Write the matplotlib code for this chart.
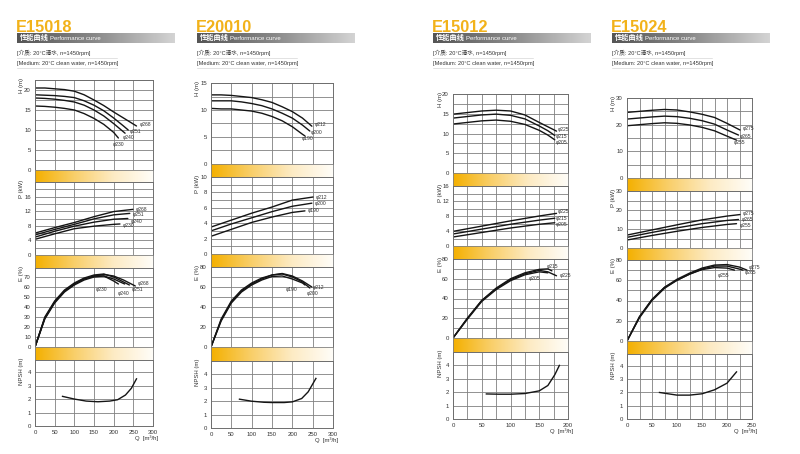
import numpy as np
import matplotlib
matplotlib.use("Agg")
import matplotlib.pyplot as plt
from matplotlib.colors import LinearSegmentedColormap

plt.rcParams["font.family"] = ["Liberation Sans", "Noto Sans CJK SC", "DejaVu Sans"]

# ---------------- values ----------------
# E15018
E15018_DIA = ["φ268", "φ251", "φ240", "φ230"]
E15018_H_Q = [[0, 25, 50, 75, 100, 125, 150, 175, 200, 225, 258],
              [0, 25, 50, 75, 100, 125, 150, 175, 200, 225, 237],
              [0, 25, 50, 75, 100, 125, 150, 175, 200, 229],
              [0, 25, 50, 75, 100, 125, 150, 175, 200, 212]]
E15018_H = [[20.5, 20.5, 20.3, 20.1, 19.7, 18.8, 17.5, 16.1, 14.5, 13.0, 11.0],
            [18.8, 18.7, 18.6, 18.4, 18.1, 17.3, 16.2, 14.8, 13.0, 11.0, 10.0],
            [18.0, 17.9, 17.7, 17.4, 17.0, 16.2, 15.0, 13.5, 11.6, 9.2],
            [16.0, 15.9, 15.7, 15.4, 15.0, 14.1, 12.9, 11.4, 9.4, 8.0]]
E15018_P_Q = [[0, 50, 100, 150, 200, 249], [0, 50, 100, 150, 200, 241],
              [0, 50, 100, 150, 200, 236], [0, 50, 100, 150, 200, 216]]
E15018_P = [[6.0, 7.5, 8.9, 10.5, 11.9, 12.5], [5.5, 7.0, 8.4, 9.9, 11.0, 11.4],
            [4.9, 6.5, 7.9, 9.0, 9.8, 10.0], [4.3, 5.8, 7.2, 7.9, 8.4, 8.5]]
E15018_E_Q = [[0, 25, 50, 75, 100, 125, 150, 175, 200, 225, 255],
              [0, 25, 50, 75, 100, 125, 150, 175, 200, 225, 240],
              [0, 25, 50, 75, 100, 125, 150, 175, 200, 228],
              [0, 25, 50, 75, 100, 125, 150, 175, 200, 212]]
E15018_E = [[0, 29, 45, 56, 63, 68, 71, 72.5, 71, 67, 61],
            [0, 30, 46, 57, 64, 69, 72, 73, 70, 65, 62],
            [0, 28, 44, 55, 62, 67, 70, 71, 68, 63],
            [0, 29, 45, 56, 63, 68, 71, 71, 66, 63]]
E15018_N_Q = [70, 100, 130, 160, 190, 210, 230, 245, 258]
E15018_N = [2.2, 2.0, 1.85, 1.8, 1.85, 1.95, 2.3, 2.8, 3.5]

# E20010
E20010_DIA = ["φ212", "φ200", "φ190"]
E20010_H_Q = [[0, 25, 50, 75, 100, 125, 150, 175, 200, 225, 248],
              [0, 25, 50, 75, 100, 125, 150, 175, 200, 225, 243],
              [0, 25, 50, 75, 100, 125, 150, 175, 200, 225, 231]]
E20010_H = [[12.8, 12.8, 12.7, 12.5, 12.3, 11.9, 11.4, 10.6, 9.7, 8.5, 7.0],
            [11.7, 11.7, 11.7, 11.5, 11.2, 10.8, 10.2, 9.4, 8.5, 7.2, 6.1],
            [10.3, 10.2, 10.2, 10.0, 9.8, 9.4, 8.8, 8.0, 6.9, 5.5, 5.2]]
E20010_P_Q = [[0, 50, 100, 150, 200, 251], [0, 50, 100, 150, 200, 248],
              [0, 50, 100, 150, 200, 231]]
E20010_P = [[3.5, 4.4, 5.3, 6.1, 7.0, 7.4], [3.0, 3.9, 4.7, 5.5, 6.2, 6.6],
            [2.3, 3.2, 4.1, 4.8, 5.4, 5.6]]
E20010_E_Q = [[0, 25, 50, 75, 100, 125, 150, 175, 200, 225, 248],
              [0, 25, 50, 75, 100, 125, 150, 175, 200, 225, 243],
              [0, 25, 50, 75, 100, 125, 150, 175, 200, 225, 231]]
E20010_E = [[0, 27, 45, 56, 63, 68, 72, 73.5, 71, 66, 60],
            [0, 28, 46, 57, 64, 69, 72, 73, 70, 65, 59],
            [0, 26, 44, 55, 62, 67, 70.5, 71, 68, 64, 62]]
E20010_N_Q = [70, 100, 130, 150, 180, 200, 223, 239, 258]
E20010_N = [2.15, 2.0, 1.92, 1.9, 1.9, 1.95, 2.2, 2.7, 3.7]

# E15012
E15012_DIA = ["φ225", "φ215", "φ205"]
E15012_H_Q = [[0, 25, 50, 75, 100, 125, 150, 165, 180],
              [0, 25, 50, 75, 100, 125, 150, 165, 177],
              [0, 25, 50, 75, 100, 125, 150, 165, 177]]
E15012_H = [[14.9, 15.3, 15.7, 15.9, 15.7, 14.7, 12.8, 11.7, 10.6],
            [13.9, 14.3, 14.7, 14.9, 14.6, 13.7, 11.9, 10.7, 9.5],
            [12.4, 12.8, 13.2, 13.4, 13.1, 12.3, 10.8, 9.6, 8.4]]
E15012_P_Q = [[0, 50, 100, 150, 180], [0, 50, 100, 150, 177], [0, 50, 100, 150, 177]]
E15012_P = [[3.9, 5.3, 6.7, 8.0, 8.7], [3.2, 4.5, 5.8, 6.9, 7.4], [2.4, 3.6, 4.8, 5.8, 6.2]]
E15012_E_Q = [[0, 25, 50, 75, 100, 125, 150, 165, 180],
              [0, 25, 50, 75, 100, 125, 150, 165, 172],
              [0, 25, 50, 75, 100, 125, 150, 165]]
E15012_E = [[0, 20, 38, 50, 59, 65, 68.5, 67, 63],
            [0, 20, 38, 50.5, 60, 66, 69.5, 70, 68],
            [0, 19, 37, 49, 58, 64, 67, 66]]
E15012_N_Q = [58, 80, 100, 125, 150, 165, 177, 185]
E15012_N = [1.87, 1.85, 1.85, 1.9, 2.1, 2.5, 3.3, 4.0]

# E15024
E15024_DIA = ["φ275", "φ265", "φ255"]
E15024_H_Q = [[0, 25, 50, 75, 100, 125, 150, 175, 200, 226],
              [0, 25, 50, 75, 100, 125, 150, 175, 200, 223],
              [0, 25, 50, 75, 100, 125, 150, 175, 200, 219]]
E15024_H = [[24.6, 25.0, 25.4, 25.7, 25.5, 24.8, 23.9, 22.7, 20.5, 18.0],
            [22.1, 22.5, 22.9, 23.2, 23.0, 22.4, 21.5, 20.2, 18.0, 16.1],
            [19.6, 20.0, 20.4, 20.7, 20.5, 19.9, 19.0, 17.7, 15.7, 14.2]]
E15024_P_Q = [[0, 50, 100, 150, 200, 226], [0, 50, 100, 150, 200, 223],
              [0, 50, 100, 150, 200, 219]]
E15024_P = [[6.8, 9.5, 12.2, 14.8, 16.8, 17.6], [5.6, 8.2, 10.6, 12.8, 14.5, 15.0],
            [4.2, 6.6, 8.8, 10.8, 12.4, 12.8]]
E15024_E_Q = [[0, 25, 50, 75, 100, 125, 150, 175, 200, 225, 240],
              [0, 25, 50, 75, 100, 125, 150, 175, 200, 225, 232],
              [0, 25, 50, 75, 100, 125, 150, 175, 200, 215]]
E15024_E = [[0, 24, 41, 53, 61, 67, 72, 75, 75.5, 73, 70],
            [0, 24, 41, 53, 60, 66, 71, 74, 74, 71, 70],
            [0, 23, 40, 52, 60, 66, 70.5, 72.5, 72, 70]]
E15024_N_Q = [65, 100, 125, 150, 175, 200, 219]
E15024_N = [2.0, 1.8, 1.8, 1.9, 2.2, 2.7, 3.55]

MEDIUM_CN = "[介质: 20°C清水, n=1450rpm]"
MEDIUM_EN = "[Medium: 20°C clean water, n=1450rpm]"
YLABELS = ["H (m)", "P (kW)", "E (%)", "NPSH (m)"]

# ---------------- layout (pixels of the 800x454 canvas) ----------------
W, H = 800, 454
PANELS = [
    dict(name="E15018", x0=17, left=35, right=153,
         rows=[80, 170, 182, 255, 268, 347, 360, 426], qmax=300, qgrid=50,
         ymax=[22.5, 20, 79, 4.9], ygrid=[2.5, 2, 10, 1],
         yticks=[[0, 5, 10, 15, 20], [0, 4, 8, 12, 16], list(range(0, 80, 10)), [0, 1, 2, 3, 4]],
         dia=E15018_DIA, H=(E15018_H_Q, E15018_H), P=(E15018_P_Q, E15018_P),
         E=(E15018_E_Q, E15018_E), N=(E15018_N_Q, E15018_N),
         hoff=[(2, 1), (1, -1), (-2, -3), (-4, -5)], poff=[(2, 0), (2, -1), (2, -2), (2, -1)],
         eoff=[(2, 2), (2, -3), (-5, -7), (-16, -4)]),
    dict(name="E20010", x0=197, left=211, right=333,
         rows=[83, 164, 177, 254, 267, 347, 361, 428], qmax=300, qgrid=50,
         ymax=[15, 10, 80, 5], ygrid=[2.5, 1, 10, 1],
         yticks=[[0, 5, 10, 15], [0, 2, 4, 6, 8, 10], [0, 20, 40, 60, 80], [0, 1, 2, 3, 4]],
         dia=E20010_DIA, H=(E20010_H_Q, E20010_H), P=(E20010_P_Q, E20010_P),
         E=(E20010_E_Q, E20010_E), N=(E20010_N_Q, E20010_N),
         hoff=[(2, 1), (1, -1), (-2, -2)], poff=[(2, 0), (2, 0), (2, 0)],
         eoff=[(1, 0), (-2, -4), (-14, -3)]),
    dict(name="E15012", x0=433, left=453, right=568,
         rows=[94, 173, 186, 246, 259, 338, 352, 419], qmax=200, qgrid=25,
         ymax=[20, 16, 80, 5], ygrid=[2.5, 2, 10, 1],
         yticks=[[0, 5, 10, 15, 20], [0, 4, 8, 12, 16], [0, 20, 40, 60, 80], [0, 1, 2, 3, 4]],
         dia=E15012_DIA, H=(E15012_H_Q, E15012_H), P=(E15012_P_Q, E15012_P),
         E=(E15012_E_Q, E15012_E), N=(E15012_N_Q, E15012_N),
         hoff=[(1, 1), (1, -1), (1, -2)], poff=[(1, 1), (1, 0), (1, -1)],
         eoff=[(2, 0), (-4, 3), (-14, -4)]),
    dict(name="E15024", x0=612, left=627, right=752,
         rows=[98, 178, 191, 248, 260, 341, 354, 419], qmax=250, qgrid=25,
         ymax=[30, 30, 80, 4.9], ygrid=[5, 5, 10, 1],
         yticks=[[0, 10, 20, 30], [0, 10, 20, 30], [0, 20, 40, 60, 80], [0, 1, 2, 3, 4]],
         dia=E15024_DIA, H=(E15024_H_Q, E15024_H), P=(E15024_P_Q, E15024_P),
         E=(E15024_E_Q, E15024_E), N=(E15024_N_Q, E15024_N),
         hoff=[(2, 1), (1, -1), (-2, -2)], poff=[(2, 1), (2, 0), (2, -1)],
         eoff=[(1, 2), (1, -2), (-12, -4)]),
]

GRID = "#808080"
CURVE = "#151515"
TXT = "#333333"
band_cmap = LinearSegmentedColormap.from_list("band", ["#F4B000", "#F9CF6A", "#FDEBC4", "#FFFDF8"])
bar_cmap = LinearSegmentedColormap.from_list("bar", ["#555555", "#8a8a8a", "#d4d4d4"])
grad = np.linspace(0, 1, 256).reshape(1, -1)


def px_axes(fig, l, r, t, b):
    return fig.add_axes([l / W, 1 - b / H, (r - l) / W, (b - t) / H])


def ftext(fig, x, y, s, **kw):
    return fig.text(x / W, 1 - y / H, s, **kw)


def band(fig, l, r, t, b):
    ax = px_axes(fig, l, r, t, b)
    ax.imshow(grad, aspect="auto", cmap=band_cmap, extent=[0, 1, 0, 1])
    ax.set_xticks([]); ax.set_yticks([])
    for s in ax.spines.values():
        s.set_color(GRID); s.set_linewidth(0.6)
    return ax


def section(fig, p, t, b, ymax, ygrid, yticks, bottom=False):
    ax = px_axes(fig, p["left"], p["right"], t, b)
    ax.set_xlim(0, p["qmax"]); ax.set_ylim(0, ymax)
    ax.set_xticks(np.arange(0, p["qmax"] + 1, 50))
    ax.set_xticks(np.arange(0, p["qmax"] + 1, p["qgrid"]), minor=True)
    ax.set_yticks(yticks)
    ax.set_yticks(np.arange(0, ymax + 1e-6, ygrid), minor=True)
    ax.grid(which="both", color=GRID, lw=0.6)
    ax.tick_params(which="both", length=0, labelsize=4.3, colors=TXT, pad=3)
    if not bottom:
        ax.tick_params(axis="x", labelbottom=False)
    for s in ax.spines.values():
        s.set_color("#6e6e6e"); s.set_linewidth(0.7)
    return ax


def curves(ax, q_list, v_list, dia, offs, fs=3.6):
    for q, v, d, (dx, dy) in zip(q_list, v_list, dia, offs):
        ax.plot(q, v, color=CURVE, lw=1.0, solid_capstyle="round")
        ax.annotate(d, (q[-1], v[-1]), xytext=(dx, dy), textcoords="offset points",
                    fontsize=fs, color=TXT, ha="left", va="center")


fig = plt.figure(figsize=(8, 4.54), dpi=100)

for p in PANELS:
    x0 = p["x0"]
    # title + header bar
    ftext(fig, x0 - 1, 32, p["name"], fontsize=11.8, fontweight="bold", color="#F2B21A", va="baseline")
    hb = px_axes(fig, x0, x0 + 158, 33, 43)
    hb.imshow(grad, aspect="auto", cmap=bar_cmap, extent=[0, 1, 0, 1])
    hb.set_axis_off()
    ftext(fig, x0 + 3, 38.5, "性能曲线", fontsize=5.2, fontweight="bold", color="white", va="center")
    ftext(fig, x0 + 33, 38.5, "Performance curve", fontsize=4.3, color="white", va="center")
    ftext(fig, x0, 53, MEDIUM_CN, fontsize=4.1, color=TXT, va="center")
    ftext(fig, x0, 63, MEDIUM_EN, fontsize=4.1, color=TXT, va="center")
    for yy in (57.5, 67.5):
        fig.add_artist(plt.Line2D([x0 / W, (x0 + 100) / W], [1 - yy / H] * 2, color="#cccccc", lw=0.4))

    r = p["rows"]
    keys = ["H", "P", "E", "N"]
    offs = [p["hoff"], p["poff"], p["eoff"], None]
    for i, k in enumerate(keys):
        t, b = r[2 * i], r[2 * i + 1]
        ax = section(fig, p, t, b, p["ymax"][i], p["ygrid"][i], p["yticks"][i], bottom=(k == "N"))
        q, v = p[k]
        if k == "N":
            ax.plot(q, v, color=CURVE, lw=1.0)
        else:
            curves(ax, q, v, p["dia"], offs[i])
        ftext(fig, p["left"] - 13, t - 2, YLABELS[i], rotation=90, fontsize=4.3,
              color=TXT, ha="center", va="top")
        if i < 3:
            band(fig, p["left"], p["right"], b, r[2 * i + 2])
    ftext(fig, p["right"] + 5, r[-1] + 12, "Q  [m³/h]", fontsize=4.3, color=TXT, ha="right", va="center")

fig.savefig("out.png", dpi=100)
